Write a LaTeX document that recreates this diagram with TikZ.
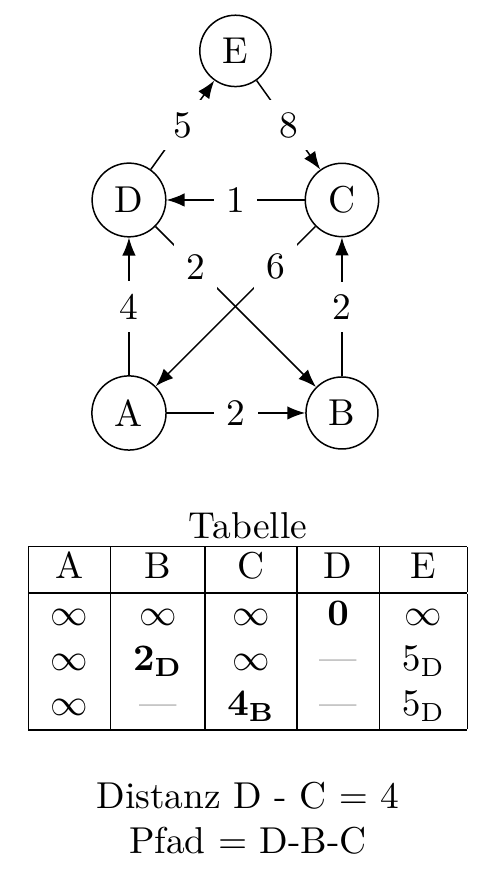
\documentclass[tikz,border=0pt]{standalone}
\usepackage{amsmath,amssymb}
\usepackage{xcolor}
\usetikzlibrary{arrows.meta, positioning}

\newcommand{\leer}{\textcolor{gray}{---}}

\begin{document}
\begin{tikzpicture}[
  vertex/.style={circle, draw, on grid},
  lbl/.style={fill=white},
  arr/.style={-{Latex}}
]
\useasboundingbox (-1.211,3.878) rectangle (3.521,-4.423);
% Graph
\node[vertex] (A) at (0,0) {A};
\node[vertex, right=2cm of A] (B) {B};
\node[vertex, above=2cm of A] (D) {D};
\node[vertex, above=2cm of B] (C) {C};
\node[vertex, above right=1.4cm and 1cm of D] (E) {E};
\draw[arr] (A) -- node[lbl] {2} (B);
\draw[arr] (A) -- node[lbl] {4} (D);
\draw[arr] (B) -- node[lbl] {2} (C);
\draw[arr] (C) -- node[lbl] {1} (D);
\draw[arr] (D) -- node[lbl] {5} (E);
\draw[arr] (E) -- node[lbl] {8} (C);
\draw[arr] (D) -- node[lbl, pos=0.25] {2} (B);
\draw[arr] (C) -- node[lbl, pos=0.25] {6} (A);
% Tabelle
\node[inner sep=0pt, anchor=north] (tab) at (1.117,-1.239) {%
  \begin{tabular}{|c|c|c|c|c|}
    \hline
    A & B & C & D & E \\ \noalign{\hrule height 0.6pt}
    $\infty$ & $\infty$ & $\infty$ & $\mathbf{0}$ & $\infty$ \\
    $\infty$ & $\mathbf{2_D}$ & $\infty$ & \leer & $5_\mathrm{D}$ \\
    $\infty$ & \leer & $\mathbf{4_B}$ & \leer & $5_\mathrm{D}$ \\ \hline
  \end{tabular}};
\node[above=0.047cm of tab, inner sep=0pt] (titel) {Tabelle};
\node[below=0.47cm of tab, inner sep=0pt, align=center] (erg)
  {Distanz D - C $=$ 4\\ Pfad $=$ D-B-C};
\end{tikzpicture}
\end{document}
